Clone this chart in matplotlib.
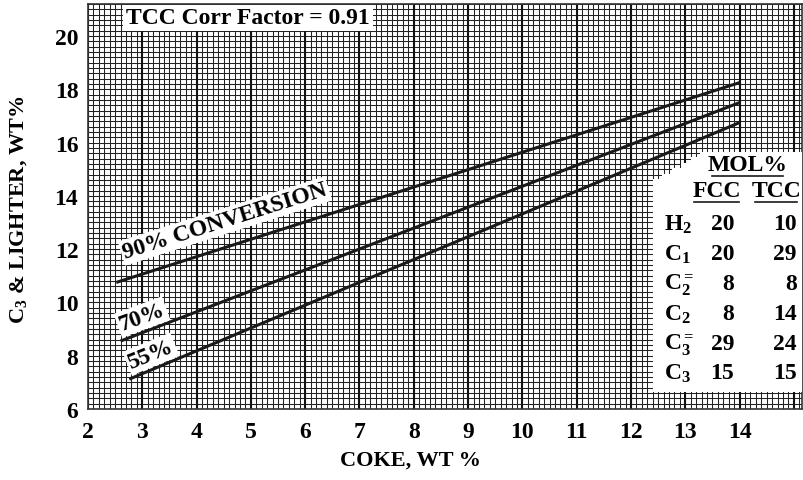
import numpy as np
import matplotlib
matplotlib.use("Agg")
import matplotlib.pyplot as plt
from matplotlib.patches import Polygon
from matplotlib.transforms import IdentityTransform

plt.rcParams["font.family"] = ["Liberation Serif", "DejaVu Serif"]
plt.rcParams["font.weight"] = "bold"
plt.rcParams["mathtext.fontset"] = "custom"
plt.rcParams["mathtext.rm"] = "Liberation Serif"
plt.rcParams["mathtext.it"] = "Liberation Serif:italic"
plt.rcParams["mathtext.bf"] = "Liberation Serif:bold"

# Conversion lines: coke wt% (start, end) and C3 & lighter wt% (start, end)
conv_labels = ["90% CONVERSION", "70%", "55%"]
coke_90 = [2.52, 14.0]
light_90 = [10.75, 18.25]
coke_70 = [2.6, 14.0]
light_70 = [8.55, 17.5]
coke_55 = [2.76, 14.0]
light_55 = [7.12, 16.75]

# Gas composition table (mol%)
species = [r"$\mathbf{H}_\mathbf{2}$", r"$\mathbf{C}_\mathbf{1}$",
           r"$\mathbf{C}_\mathbf{2}^\mathbf{=}$", r"$\mathbf{C}_\mathbf{2}$",
           r"$\mathbf{C}_\mathbf{3}^\mathbf{=}$", r"$\mathbf{C}_\mathbf{3}$"]
fcc_mol = [20, 20, 8, 8, 29, 15]
tcc_mol = [10, 29, 8, 14, 24, 15]

x_ticks = list(range(2, 15))
y_ticks = list(range(6, 21, 2))

W, H = 804, 481
fig = plt.figure(figsize=(W / 100, H / 100), dpi=100)
ax = fig.add_axes([88 / W, 1 - 410 / H, (802 - 88) / W, (410 - 5) / H])

xmin, xmax = 2.0, 15.15
ymin, ymax = 6.0, 21.2
ax.set_xlim(xmin, xmax)
ax.set_ylim(ymin, ymax)
ax.set_autoscale_on(False)

PIX = IdentityTransform()


def ptext(x, y, s, **kw):
    """Place text at a pixel position measured from the top-left corner."""
    return fig.text(x, H - y, s, transform=PIX, **kw)


def pline(x0, x1, y):
    ax.plot([x0, x1], [H - y, H - y], color="#1a1a1a", lw=1.2,
            transform=PIX, clip_on=False, zorder=7)


# graph-paper grid
for xv in np.arange(2.0, xmax + 1e-9, 0.1):
    ax.axvline(xv, color="#222222", lw=0.75, zorder=1)
for xv in x_ticks + [15]:
    ax.axvline(xv, color="#111111", lw=1.5, zorder=1.1)
for yv in np.arange(6.0, ymax + 1e-9, 0.2):
    ax.axhline(yv, color="#222222", lw=0.75, zorder=1)

ax.set_xticks(x_ticks)
ax.set_yticks(y_ticks)
ax.tick_params(length=0, labelsize=17)
ax.tick_params(axis="x", pad=9)
ax.tick_params(axis="y", pad=7)
for lab in ax.get_xticklabels() + ax.get_yticklabels():
    lab.set_fontweight("bold")
for s in ax.spines.values():
    s.set_color("#333333")
    s.set_linewidth(1.2)

# axis titles
ptext(410, 461, "COKE, WT %", ha="center", va="center", fontsize=16,
      fontweight="bold")
ptext(19, 210, r"C$_3$ & LIGHTER, WT%", ha="center", va="center",
      rotation=90, fontsize=16, fontweight="bold")

# conversion lines
for cx, cy in [(coke_90, light_90), (coke_70, light_70), (coke_55, light_55)]:
    ax.plot(cx, cy, color="#1a1a1a", lw=2.2, zorder=4, solid_capstyle="butt")

box = dict(facecolor="white", edgecolor="none", pad=1.5)
ptext(225, 222, conv_labels[0], rotation=17.5, ha="center", va="center",
      fontsize=17, fontweight="bold", bbox=box, zorder=5)
ptext(142, 318, conv_labels[1], rotation=20, ha="center", va="center",
      fontsize=17, fontweight="bold", bbox=box, zorder=5)
ptext(151, 355, conv_labels[2], rotation=22, ha="center", va="center",
      fontsize=17, fontweight="bold", bbox=box, zorder=5)

# correction factor banner
ptext(248, 19, "TCC Corr Factor = 0.91", ha="center", va="center",
      fontsize=17, fontweight="bold",
      bbox=dict(facecolor="white", edgecolor="none", pad=2.0), zorder=5)

# white panel behind the composition table (stepped top-left corner)
ppx = [653, 802, 802, 700]
ppy = [393, 393, 153, 153]
sx = np.linspace(700, 653, 6)
sy = np.linspace(153, 180, 6)
for i in range(1, 6):
    ppx += [sx[i - 1], sx[i]]
    ppy += [sy[i], sy[i]]
panel = Polygon(np.column_stack([ppx, H - np.array(ppy)]), closed=True,
                facecolor="white", edgecolor="none", transform=PIX,
                clip_on=False, zorder=5)
ax.add_artist(panel)

ptext(748, 166, "MOL%", ha="center", va="center", fontsize=17, zorder=6)
pline(712, 783, 177)
ptext(717, 192, "FCC", ha="center", va="center", fontsize=17, zorder=6)
pline(694, 739, 203)
ptext(777, 192, "TCC", ha="center", va="center", fontsize=17, zorder=6)
pline(755, 797, 203)

row_y = [225, 255, 285, 315, 345, 374]
for yy, sp, f, t in zip(row_y, species, fcc_mol, tcc_mol):
    ptext(664, yy, sp, ha="left", va="center", fontsize=17, zorder=6)
    ptext(734, yy, str(f), ha="right", va="center", fontsize=17, zorder=6)
    ptext(797, yy, str(t), ha="right", va="center", fontsize=17, zorder=6)

fig.savefig("out.png", dpi=100)
